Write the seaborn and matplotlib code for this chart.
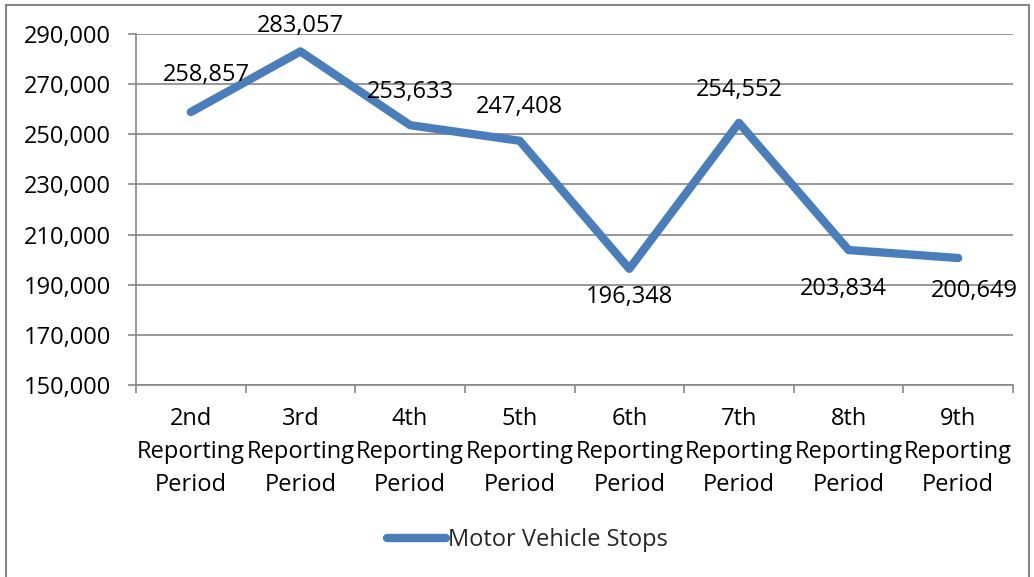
import numpy as np
import pandas as pd
import matplotlib
matplotlib.use("Agg")
import matplotlib.pyplot as plt
import seaborn as sns
from matplotlib.patches import Rectangle
from matplotlib.ticker import FuncFormatter, FixedLocator

periods = ["2nd", "3rd", "4th", "5th", "6th", "7th", "8th", "9th"]
stops = [258857, 283057, 253633, 247408, 196348, 254552, 203834, 200649]
series_name = "Motor Vehicle Stops"

# label offsets in points (dx, dy) relative to each point
label_offsets = [(11, 27), (0, 18), (0, 24), (0, 24), (0, -20), (0, 24), (-4, -28), (12, -24)]

sns.set_theme(style="white")
plt.rcParams["font.family"] = ["Open Sans", "DejaVu Sans"]

GRAY = "#868686"
BLUE = "#4a7ebb"
FS = 17

df = pd.DataFrame({
    "period": [f"{p}\nReporting\nPeriod" for p in periods],
    "stops": stops,
    "series": series_name,
})
df["pos"] = np.arange(len(df))

fig = plt.figure(figsize=(10.34, 5.77), dpi=100)
ax = fig.add_axes([136 / 1034, 1 - 385 / 577, (1013 - 136) / 1034, (385 - 34) / 577])

sns.lineplot(data=df, x="pos", y="stops", hue="series", palette=[BLUE],
             linewidth=6, ax=ax, solid_capstyle="round", solid_joinstyle="round")

for i, (v, off) in enumerate(zip(stops, label_offsets)):
    ax.annotate(f"{v:,}", (i, v), xytext=off, textcoords="offset points",
                ha="center", va="center", fontsize=FS, color="black")

ax.set_xlim(-0.5, len(periods) - 0.5)
ax.set_ylim(150000, 290000)
ax.set_yticks(np.arange(150000, 290001, 20000))
ax.yaxis.set_major_formatter(FuncFormatter(lambda v, _: f"{int(v):,}"))
ax.set_xticks(df["pos"])
ax.set_xticklabels(df["period"], linespacing=1.5)
ax.xaxis.set_minor_locator(FixedLocator(np.arange(-0.5, len(periods), 1)))

ax.grid(axis="y", color=GRAY, linewidth=1.2)
ax.grid(axis="x", visible=False)
for s in ["top", "right"]:
    ax.spines[s].set_visible(False)
for s in ["left", "bottom"]:
    ax.spines[s].set_color(GRAY)
    ax.spines[s].set_linewidth(1.2)

ax.tick_params(axis="y", which="major", length=6, width=1.2, color=GRAY, pad=12,
               labelsize=FS, labelcolor="black", left=True, direction="out")
ax.tick_params(axis="x", which="major", length=0, pad=16, labelsize=FS, labelcolor="black")
ax.tick_params(axis="x", which="minor", length=6, width=1.2, color=GRAY, bottom=True, direction="out")
ax.set_xlabel("")
ax.set_ylabel("")

leg = ax.legend(loc="center", bbox_to_anchor=(0.51, 1 - 540 / 577), bbox_transform=fig.transFigure,
                frameon=False, fontsize=FS, handlelength=2.5, handletextpad=0.05)
for h in leg.get_lines():
    h.set_linewidth(6)
    h.set_solid_capstyle("round")

fig.patches.append(Rectangle((6 / 1034, -0.05), 1023 / 1034, 1.05 - 5 / 577,
                             transform=fig.transFigure, fill=False,
                             edgecolor=GRAY, linewidth=1.5))

fig.savefig("out.png", dpi=100)
